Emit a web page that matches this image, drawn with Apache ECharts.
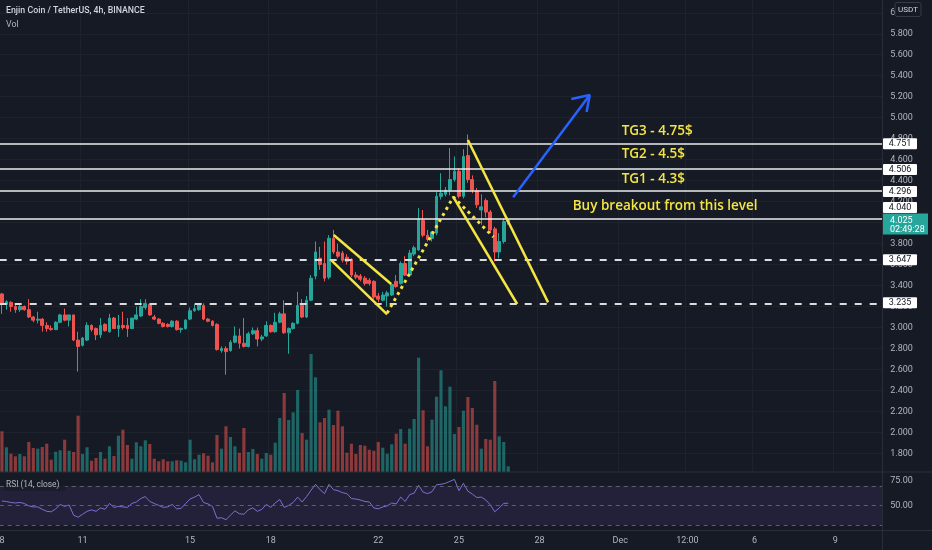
<!DOCTYPE html>
<html><head><meta charset="utf-8">
<script src="https://cdn.jsdelivr.net/npm/echarts@6/dist/echarts.min.js"></script>
<style>html,body{margin:0;padding:0;background:#161a25;}#c{width:932px;height:550px;}</style>
</head><body><div id="c"></div>
<script>
// ---- data: 4h candles, Nov 8 00:00 .. Nov 26 20:00, [open, close, low, high]
const ohlc = [
[3.32,3.22,3.13,3.33],[3.22,3.245,3.17,3.26],[3.24,3.20,3.15,3.25],[3.20,3.17,3.14,3.215],[3.17,3.20,3.15,3.23],
[3.20,3.17,3.16,3.21],[3.17,3.10,3.09,3.27],[3.10,3.07,3.05,3.11],[3.07,3.08,3.04,3.15],[3.08,3.02,2.96,3.09],
[3.02,2.99,2.96,3.05],[2.99,2.98,2.97,3.02],[2.98,3.05,2.975,3.06],[3.05,3.12,3.04,3.13],[3.12,3.07,3.06,3.18],
[3.07,3.12,3.01,3.12],[3.12,2.88,2.87,3.12],[2.88,2.82,2.58,2.96],[2.83,2.90,2.82,2.91],[2.88,3.02,2.87,3.05],
[3.02,2.98,2.96,3.03],[2.99,2.93,2.88,3.00],[2.93,3.02,2.90,3.09],[3.03,2.97,2.96,3.04],[2.96,3.09,2.95,3.13],
[3.09,2.99,2.99,3.10],[2.99,3.02,2.91,3.12],[3.02,3.00,2.98,3.15],[3.02,2.99,2.91,3.09],[2.99,3.09,2.99,3.09],
[3.08,3.12,3.07,3.20],[3.11,3.20,3.10,3.27],[3.19,3.23,3.17,3.27],[3.22,3.12,3.11,3.23],[3.10,3.08,3.07,3.12],
[3.08,3.04,3.03,3.09],[3.04,3.01,3.00,3.05],[3.03,3.01,3.00,3.04],[3.01,3.06,3.00,3.07],[3.06,2.98,2.97,3.07],
[2.98,2.99,2.95,3.00],[2.99,3.07,2.98,3.08],[3.08,3.16,3.07,3.19],[3.16,3.18,3.15,3.22],[3.17,3.22,3.16,3.23],
[3.21,3.08,3.07,3.23],[3.08,3.06,3.05,3.09],[3.06,3.02,3.01,3.07],[3.03,2.79,2.78,3.04],[2.78,2.80,2.76,2.82],
[2.80,2.77,2.55,2.82],[2.78,2.86,2.77,2.88],[2.86,2.92,2.85,3.01],[2.92,2.85,2.80,2.99],[2.85,2.82,2.81,3.09],
[2.82,2.94,2.81,2.96],[2.94,2.97,2.93,3.00],[2.97,2.89,2.82,3.00],[2.89,2.91,2.87,2.93],[2.92,3.02,2.91,3.06],
[3.02,2.96,2.95,3.03],[2.96,3.05,2.95,3.14],[3.05,3.13,3.04,3.15],[3.13,2.95,2.94,3.26],[2.95,2.99,2.75,3.00],
[2.99,3.04,2.98,3.05],[3.04,3.21,3.03,3.34],[3.21,3.10,3.09,3.27],[3.10,3.26,3.09,3.30],[3.26,3.47,3.25,3.50],
[3.49,3.72,3.46,3.82],[3.66,3.60,3.55,3.77],[3.61,3.47,3.44,3.82],[3.48,3.85,3.46,3.88],[3.85,3.72,3.70,3.93],
[3.72,3.68,3.66,3.80],[3.71,3.64,3.62,3.73],[3.67,3.63,3.60,3.70],[3.65,3.50,3.48,3.66],[3.50,3.48,3.46,3.53],
[3.49,3.46,3.44,3.51],[3.47,3.42,3.40,3.49],[3.45,3.42,3.40,3.47],[3.44,3.29,3.27,3.45],[3.30,3.27,3.24,3.33],
[3.26,3.31,3.25,3.34],[3.30,3.33,3.20,3.35],[3.31,3.41,3.30,3.42],[3.44,3.39,3.38,3.50],[3.42,3.61,3.41,3.63],
[3.61,3.50,3.49,3.68],[3.50,3.71,3.49,3.74],[3.70,3.76,3.68,3.78],[3.74,4.03,3.73,4.14],[4.02,3.88,3.86,4.12],
[3.88,3.84,3.82,3.93],[3.85,3.91,3.82,3.92],[3.90,4.25,3.88,4.29],[4.25,4.28,4.22,4.47],[4.27,4.31,4.25,4.34],
[4.31,4.41,4.26,4.71],[4.41,4.49,4.39,4.63],[4.49,4.25,4.23,4.52],[4.25,4.63,4.23,4.70],[4.64,4.41,4.38,4.84],
[4.41,4.31,4.28,4.45],[4.30,4.17,4.14,4.33],[4.12,4.15,3.98,4.27],[4.21,4.10,4.05,4.23],[4.10,3.93,3.90,4.12],
[3.94,3.72,3.63,3.96],[3.72,3.82,3.66,3.90],[3.82,4.01,3.80,4.04],[4.01,4.025,3.98,4.05]
];
const volume = [
40.7,24.7,18.3,15.7,18,15.7,30,24,23.3,25,
28.3,12.3,20.3,21.7,32.3,21.3,20,56.3,18,24.7,
11.3,14,20,13.3,25.7,16,36.3,42.3,27,13.3,
29.7,25.7,31.7,28,13.3,10.7,12.7,10.7,10.7,11.7,
11.3,9.7,32.3,12.7,17.3,18.7,16.3,9.7,37,23.3,
45.7,35,25.7,19.3,44,20,23,18,13.3,19,
17.3,29.3,54,79,52,59.7,82,39,32.3,118,
94.7,49.7,54,62.3,47,61.3,45.7,19.3,28.3,18,
27,26.3,22.3,21.3,30,24.3,18.3,27.7,38.3,43,
28.3,43.3,53,114.3,61.7,25.7,52.3,75.3,101.7,65.7,
85.3,38,45,61.3,75,64,47.3,23.3,33,32.3,
91,35.7,30,5.7
];
const rsi = [
54.5,54,53,52.5,53,52,49.5,48.5,48.5,46,
44,43.5,46.5,51,49,50.5,40,38,41,44,
45.5,44,47.5,46,52,48,49,48.5,48,52,
53.5,57,59,54,52,50,48,48.5,51,46.5,
47,52,56.5,58.5,61,53,51.5,49,37,37.5,
35.5,40,44.5,41.5,41,45.5,47.5,44,46,51,
48,52.5,56,48,50,53,58.5,53.5,59,65.5,
71.5,66,62,71.5,66,65,63,62,57,56.5,
55.5,54,53.5,47.5,46.5,48.5,49.5,52.5,51.5,58.5,
54,61,62.5,70.5,63.5,62,64,71,71.5,72.5,
74.5,76.5,65,72.5,64.5,61.5,58,58.5,55.5,50.5,
43.5,47.5,52,52.3
];
const tickLabels = ['8','11','15','18','22','25','28','Dec','12:00','6','9'];
const tickIndex  = [0,18,42,60,84,102,120,138,153,168,186];
const totalSlots = 197;
const levelsSolid  = [4.751, 4.506, 4.296, 4.040];
const levelsDashed = [3.647, 3.235];
const currentPrice = 4.025;
const countdown = '02:49:28';
const rsiBands = [70, 50, 30];
// drawings in [candle index, price]
const flag1Upper = [[74.05,3.882],[86.87,3.415]];
const flag1Lower = [[73.6,3.637],[85.98,3.126]];
const flag2Upper = [[104.0,4.787],[121.9,3.240]];
const flag2Lower = [[100.7,4.247],[115.0,3.224]];
const dottedPath = [[85.98,3.138],[100.75,4.244],[109.7,3.863]];
const arrowShaft = [[114.1,4.241],[131.2,5.216]];
const arrowHead  = [[127.1,5.178],[131.2,5.216],[130.5,5.054]];

// ---- chart
const BG = '#161a25', GRIDC = '#1e222d', TXT = '#b2b5be';
const UP = '#26a69a', DOWN = '#ef5350';
const FONT = 'Roboto, "Noto Sans", sans-serif';
const cats = Array.from({length: totalSlots}, (_, i) => String(i));
const tickMap = {}; tickIndex.forEach((k, j) => tickMap[k] = tickLabels[j]);
const isTick = (i) => tickMap[i] !== undefined;
const L = -0.3, R = 49.7;
const gridBase = {left: L, right: R, containLabel: false, outerBoundsMode: 'none'};
const volData = volume.map((v, i) => ({value: v, itemStyle: {color: ohlc[i][1] >= ohlc[i][0] ? 'rgba(38,166,154,0.55)' : 'rgba(239,83,80,0.55)'}}));
const yellow = '#f4e542';
function drawLine(data, style) {
  return {type: 'line', xAxisIndex: 3, yAxisIndex: 0, data: data, showSymbol: false, symbol: 'none', silent: true, z: 6, animation: false, lineStyle: style};
}
const chart = echarts.init(document.getElementById('c'), null, {renderer: 'canvas'});
const option = {
  backgroundColor: BG,
  animation: false,
  grid: [
    Object.assign({top: -8.2, bottom: 96.6}, gridBase),
    Object.assign({top: 0, bottom: 78}, gridBase),
    Object.assign({top: 472, bottom: 20}, gridBase)
  ],
  xAxis: [
    {type: 'category', gridIndex: 0, data: cats, show: false, boundaryGap: true},
    {type: 'category', gridIndex: 1, data: cats, boundaryGap: true, axisLine: {show: false}, axisTick: {show: false}, axisLabel: {show: false},
      splitLine: {show: true, interval: (i) => isTick(i), lineStyle: {color: GRIDC, width: 1}}},
    {type: 'category', gridIndex: 2, data: cats, boundaryGap: true, axisLine: {show: false}, axisTick: {show: false}, splitLine: {show: false},
      axisLabel: {interval: (i) => isTick(i), formatter: (v, i) => tickMap[i] || '', color: TXT, fontSize: 9, fontFamily: FONT, margin: 6}},
    {type: 'value', gridIndex: 0, min: -0.5, max: totalSlots - 0.5, show: false}
  ],
  yAxis: [
    {type: 'value', gridIndex: 0, position: 'right', min: 1.8, max: 6.2, interval: 0.2, scale: true,
      axisLine: {show: false}, axisTick: {show: false},
      splitLine: {show: true, lineStyle: {color: GRIDC, width: 1}},
      axisLabel: {color: TXT, fontSize: 9, fontFamily: FONT, margin: 8, formatter: (v) => v > 6.1 ? '' : v.toFixed(3)}},
    {type: 'value', gridIndex: 1, min: 0, max: 472, show: false, splitLine: {show: false}},
    {type: 'value', gridIndex: 2, position: 'right', min: 25, max: 84, interval: 25,
      axisLine: {show: false}, axisTick: {show: false}, splitLine: {show: false},
      axisLabel: {color: TXT, fontSize: 9, fontFamily: FONT, margin: 8, formatter: (v) => (v === 50 || v === 75) ? v.toFixed(2) : ''}}
  ],
  series: [
    {type: 'bar', xAxisIndex: 1, yAxisIndex: 1, data: volData, barWidth: '70%', silent: true, z: 1},
    {type: 'candlestick', xAxisIndex: 0, yAxisIndex: 0, data: ohlc, barWidth: '72%', silent: true, z: 3,
      itemStyle: {color: UP, color0: DOWN, borderColor: UP, borderColor0: DOWN, borderWidth: 1},
      markLine: {silent: true, symbol: ['none', 'none'], label: {show: false}, animation: false,
        data: levelsSolid.map(v => ({yAxis: v, lineStyle: {color: '#ececec', width: 1.7, type: 'solid'}}))
          .concat(levelsDashed.map(v => ({yAxis: v, lineStyle: {color: '#dcdcdc', width: 2, type: [7, 8]}})))}},
    drawLine(flag1Upper, {color: yellow, width: 2.5}),
    drawLine(flag1Lower, {color: yellow, width: 2.5}),
    drawLine(flag2Upper, {color: yellow, width: 2.5}),
    drawLine(flag2Lower, {color: yellow, width: 2.5}),
    drawLine(dottedPath, {color: yellow, width: 3, type: [3, 4]}),
    drawLine(arrowShaft, {color: '#2962ff', width: 2.5}),
    drawLine(arrowHead, {color: '#2962ff', width: 2.5}),
    {type: 'line', xAxisIndex: 2, yAxisIndex: 2, data: rsi, showSymbol: false, symbol: 'none', silent: true,
      lineStyle: {color: '#7e6fd0', width: 1},
      markArea: {silent: true, itemStyle: {color: 'rgba(126,87,194,0.13)'}, data: [[{yAxis: 30}, {yAxis: 70}]]},
      markLine: {silent: true, symbol: ['none', 'none'], label: {show: false},
        data: rsiBands.map(v => ({yAxis: v})), lineStyle: {color: '#5d606b', width: 1, type: [4, 4]}}}
  ]
};
chart.setOption(option);

// ---- overlays positioned through the price scale
const py = (v) => chart.convertToPixel({yAxisIndex: 0}, v);
const axisX = 883;
const g = [];
g.push({type: 'line', shape: {x1: 0, y1: 472, x2: 932, y2: 472}, style: {stroke: '#2a2e39', lineWidth: 1}, z: 50});
g.push({type: 'line', shape: {x1: 0, y1: 530.5, x2: 932, y2: 530.5}, style: {stroke: '#2a2e39', lineWidth: 1}, z: 50});
g.push({type: 'line', shape: {x1: axisX - 0.5, y1: 0, x2: axisX - 0.5, y2: 550}, style: {stroke: '#2a2e39', lineWidth: 1}, z: 50});
const yCur = py(currentPrice);
const curTop = yCur - 6.5;
function priceBox(v) {
  let y = py(v);
  if (Math.abs(y - yCur) < 16 && v > currentPrice) y = curTop - 6;
  g.push({type: 'rect', shape: {x: axisX, y: y - 5.5, width: 34, height: 11, r: 1}, style: {fill: '#ffffff'}, z: 60});
  g.push({type: 'text', x: axisX + 17, y: y + 0.3, style: {text: v.toFixed(3), fill: '#131722', font: '9px ' + FONT, align: 'center', verticalAlign: 'middle'}, z: 61});
}
levelsSolid.concat(levelsDashed).forEach(priceBox);
g.push({type: 'rect', shape: {x: axisX, y: curTop, width: 45, height: 21}, style: {fill: UP}, z: 60});
g.push({type: 'text', x: axisX + 7, y: yCur + 0.7, style: {text: currentPrice.toFixed(3), fill: '#ffffff', font: '9px ' + FONT, verticalAlign: 'middle'}, z: 61});
g.push({type: 'text', x: axisX + 7, y: yCur + 10, style: {text: countdown, fill: '#ffffff', font: '9px ' + FONT, verticalAlign: 'middle'}, z: 61});
// USDT box
g.push({type: 'rect', shape: {x: 895, y: 2.5, width: 26, height: 14, r: 2}, style: {fill: BG, stroke: '#363a45', lineWidth: 1}, z: 60});
g.push({type: 'text', x: 908, y: 9.8, style: {text: 'USDT', fill: '#d1d4dc', font: '8px ' + FONT, align: 'center', verticalAlign: 'middle'}, z: 61});
// header
g.push({type: 'text', x: 6, y: 11, style: {text: 'Enjin Coin / TetherUS, 4h, BINANCE', fill: '#d1d4dc', font: '500 8.8px ' + FONT, verticalAlign: 'middle'}, z: 61});
g.push({type: 'text', x: 6, y: 25, style: {text: 'Vol', fill: '#b2b5be', font: '8.8px ' + FONT, verticalAlign: 'middle'}, z: 61});
g.push({type: 'rect', shape: {x: 4, y: 479, width: 62, height: 12}, style: {fill: BG, opacity: 0.6}, z: 55});
g.push({type: 'text', x: 6, y: 485, style: {text: 'RSI (14, close)', fill: '#b2b5be', font: '8.4px ' + FONT, verticalAlign: 'middle'}, z: 61});
// annotations
const ann = [
  {t: 'TG3 - 4.75$', x: 621.7, y: 130.7},
  {t: 'TG2 - 4.5$', x: 621.7, y: 154.3},
  {t: 'TG1 - 4.3$', x: 621.7, y: 179},
  {t: 'Buy breakout from this level', x: 572.7, y: 205.7}
];
ann.forEach(a => g.push({type: 'text', x: a.x, y: a.y, style: {text: a.t, fill: yellow, font: '600 13.5px "Open Sans", Roboto, sans-serif', verticalAlign: 'middle'}, z: 62}));
chart.setOption({graphic: g});
</script>
</body></html>
